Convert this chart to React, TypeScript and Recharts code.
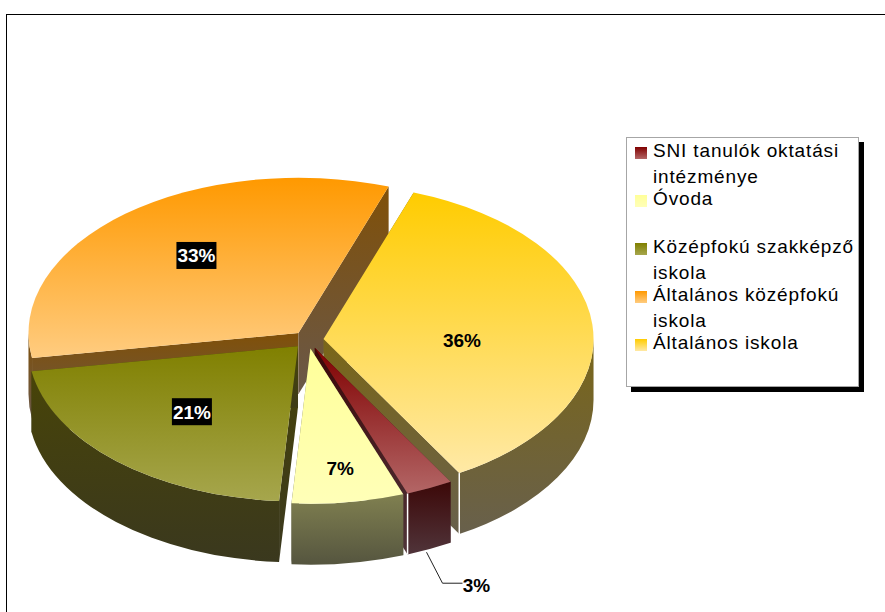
import { PieChart, Pie, Legend } from "recharts";

const categories = [
  "SNI tanulók oktatási intézménye",
  "Óvoda",
  "Középfokú szakképző iskola",
  "Általános középfokú iskola",
  "Általános iskola",
];
const values = [2.8, 6.7, 21.3, 33, 36.2];
// top face gradient, from the back of the slice to the front
const topColors = [
  ["#800000", "#b36666"],
  ["#ffff99", "#ffffb8"],
  ["#808000", "#a6a64d"],
  ["#ff9900", "#ffcc80"],
  ["#ffcc00", "#ffe9a6"],
];
const wallColors = [
  ["#3c0808", "#50343a"],
  ["#808050", "#55553f"],
  ["#484408", "#3a381e"],
  ["#805008", "#69584a"],
  ["#7a6618", "#68604c"],
];
const labelRadius = [0, 205, 153, 170, 138];
const labelNudge = [
  [0, 0],
  [1, 3],
  [-3, 1],
  [7, -2],
  [1, 9],
];
const darkLabel = [false, false, true, true, false];

// painter's order: back slices first, the pie still runs clockwise
const paintOrder = [3, 4, 0, 1, 2];
const pieData = paintOrder.map((i) => ({ name: categories[i], value: values[i], idx: i, fill: `url(#top${i})` }));

const FONT = "'Liberation Sans', Arial, sans-serif";
const TILT = 0.575;
const DEPTH = 61;
const EXPLODE = 15.3;
const RAD = Math.PI / 180;

const pointAt = (cx: number, cy: number, r: number, deg: number) => [
  cx + r * Math.cos(deg * RAD),
  cy - r * TILT * Math.sin(deg * RAD),
];

function Slice3D(props: any) {
  const { cx, cy, outerRadius: r, startAngle, endAngle, midAngle, payload } = props;
  const idx = payload.idx;
  const [ox, oy] = pointAt(cx, cy, EXPLODE, midAngle);
  const ry = r * TILT;
  const [sx, sy] = pointAt(ox, oy, r, startAngle);
  const [ex, ey] = pointAt(ox, oy, r, endAngle);
  const large = Math.abs(startAngle - endAngle) > 180 ? 1 : 0;

  // outer wall: only the part of the rim that faces the viewer
  const rim: string[] = [];
  const hi0 = Math.max(startAngle, endAngle);
  const lo0 = Math.min(startAngle, endAngle);
  [-360, 0, 360].forEach((shift) => {
    const lo = Math.max(lo0, -180 + shift);
    const hi = Math.min(hi0, shift);
    if (hi > lo) {
      const [ax, ay] = pointAt(ox, oy, r, hi);
      const [bx, by] = pointAt(ox, oy, r, lo);
      rim.push(
        `M${ax},${ay}A${r},${ry} 0 0 1 ${bx},${by}L${bx},${by + DEPTH}A${r},${ry} 0 0 0 ${ax},${ay + DEPTH}Z`
      );
    }
  });

  const cut = (px: number, py: number) =>
    `M${ox},${oy}L${px},${py}L${px},${py + DEPTH}L${ox},${oy + DEPTH}Z`;
  const wall = `url(#wall${idx})`;

  return (
    <g>
      <path d={cut(sx, sy)} fill={wall} />
      <path d={cut(ex, ey)} fill={wall} />
      {rim.map((d) => (
        <path key={d} d={d} fill={wall} />
      ))}
      {idx === 0 || idx === 4 ? (
        <path d={`M${ex},${ey}L${ex},${ey + DEPTH}`} stroke="#fff" strokeWidth={1.5} fill="none" />
      ) : null}
      <path
        d={`M${ox},${oy}L${sx},${sy}A${r},${ry} 0 ${large} 1 ${ex},${ey}Z`}
        fill={`url(#top${idx})`}
      />
    </g>
  );
}

function SliceLabel(props: any) {
  const { cx, cy, outerRadius, midAngle, percent, payload } = props;
  const idx = payload.idx;
  const text = `${Math.round(percent * 100)}%`;
  const [ox, oy] = pointAt(cx, cy, EXPLODE, midAngle);
  const style = { fontFamily: FONT, fontSize: 19, fontWeight: 700 };

  if (idx === 0) {
    const [ax, ay] = pointAt(ox, oy, outerRadius, midAngle);
    const sx = ax - 3;
    const sy = ay + DEPTH + 3;
    return (
      <g>
        <path d={`M${sx},${sy}L${sx + 16},${sy + 31}L${sx + 36},${sy + 31}`} stroke="#222" fill="none" />
        <text x={sx + 50} y={sy + 33} textAnchor="middle" dominantBaseline="central" fill="#000" style={style}>
          {text}
        </text>
      </g>
    );
  }
  const [px, py] = pointAt(ox, oy, labelRadius[idx], midAngle);
  const x = px + labelNudge[idx][0];
  const y = py + labelNudge[idx][1];
  return (
    <g>
      {darkLabel[idx] ? <rect x={x - 20} y={y - 14} width={40} height={27} fill="#000" /> : null}
      <text
        x={x}
        y={y}
        textAnchor="middle"
        dominantBaseline="central"
        fill={darkLabel[idx] ? "#fff" : "#000"}
        style={style}
      >
        {text}
      </text>
    </g>
  );
}

function LegendBox(props: any) {
  const items = [...(props.payload ?? [])].sort(
    (a: any, b: any) => categories.indexOf(a.value) - categories.indexOf(b.value)
  );
  return (
    <div
      style={{
        width: 233,
        height: 250,
        boxSizing: "border-box",
        border: "1px solid #a6a6a6",
        boxShadow: "5px 5px 0 #000",
        background: "#fff",
        paddingTop: 9,
        fontFamily: FONT,
        fontSize: 19,
        lineHeight: "26px",
        letterSpacing: 0.85,
        color: "#000",
      }}
    >
      {items.map((item: any) => {
        const i = categories.indexOf(item.value);
        return (
          <div key={item.value} style={{ position: "relative", height: 48, paddingLeft: 26 }}>
            <span
              style={{
                position: "absolute",
                left: 8,
                top: 0,
                width: 12,
                height: 12,
                background: `linear-gradient(${topColors[i][0]}, ${topColors[i][1]})`,
              }}
            />
            <div style={{ position: "absolute", left: 26, top: -9, width: 212 }}>{item.value}</div>
          </div>
        );
      })}
    </div>
  );
}

export default function App() {
  return (
    <div style={{ position: "absolute", left: 0, top: 0, width: 885, height: 612, overflow: "hidden" }}>
      <div
        style={{
          position: "absolute",
          left: 6,
          top: 14,
          width: 879,
          height: 598,
          borderLeft: "1px solid #000",
          borderTop: "1px solid #000",
        }}
      />
      <PieChart width={885} height={612} margin={{ top: 0, right: 0, bottom: 0, left: 0 }}>
        <defs>
          {categories.map((c, i) => (
            <linearGradient key={c} id={`top${i}`} x1="0" y1="0" x2="0" y2="1">
              <stop offset="0%" stopColor={topColors[i][0]} />
              <stop offset="100%" stopColor={topColors[i][1]} />
            </linearGradient>
          ))}
          {categories.map((c, i) => (
            <linearGradient key={c} id={`wall${i}`} x1="0" y1="0" x2="0" y2="1">
              <stop offset="0%" stopColor={wallColors[i][0]} />
              <stop offset="100%" stopColor={wallColors[i][1]} />
            </linearGradient>
          ))}
        </defs>
        <Pie
          data={pieData}
          dataKey="value"
          nameKey="name"
          cx={308.3}
          cy={339.7}
          innerRadius={0}
          outerRadius={270}
          startAngle={189.3}
          endAngle={-170.7}
          paddingAngle={0}
          stroke="none"
          isAnimationActive={false}
          shape={Slice3D}
          label={SliceLabel}
          labelLine={false}
        />
        <Legend
          content={LegendBox}
          layout="vertical"
          align="right"
          verticalAlign="top"
          wrapperStyle={{ position: "absolute", left: 626, top: 137, width: 233, height: 250 }}
        />
      </PieChart>
    </div>
  );
}
